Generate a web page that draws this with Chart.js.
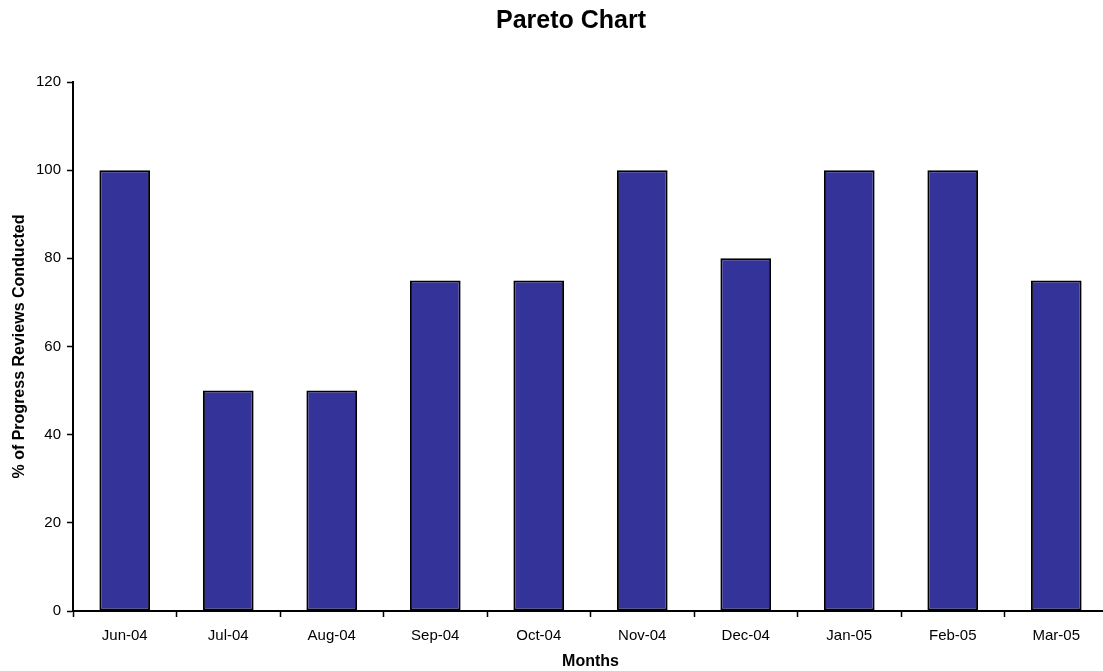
<!DOCTYPE html>
<html>
<head>
<meta charset="utf-8">
<script src="https://cdn.jsdelivr.net/npm/chart.js@4.4.1/dist/chart.umd.min.js"></script>
<style>
  html, body { margin: 0; padding: 0; background: #fff; overflow: hidden; }
  /* canvas is a few px wider than the window: the original's x axis runs past the right edge */
  #paretoChart { display: block; }
</style>
</head>
<body>
<canvas id="paretoChart" width="1108" height="671"></canvas>
<script>
const chartTitle = 'Pareto Chart';
const months = ['Jun-04', 'Jul-04', 'Aug-04', 'Sep-04', 'Oct-04', 'Nov-04', 'Dec-04', 'Jan-05', 'Feb-05', 'Mar-05'];
const reviewPercent = [100, 50, 50, 75, 75, 100, 80, 100, 100, 75];
const yTicks = [0, 20, 40, 60, 80, 100, 120];

const fontFamily = '"Liberation Sans", Arial, sans-serif';

// title sits a bit right of the canvas centre in the original, so draw it by hand
const titlePlugin = {
  id: 'offsetTitle',
  afterDraw(chart) {
    const c = chart.ctx;
    c.save();
    c.font = 'bold 25px ' + fontFamily;
    c.fillStyle = '#000';
    c.textAlign = 'center';
    c.textBaseline = 'middle';
    c.fillText(chartTitle, 571, 21);
    c.restore();
  }
};

const ctx = document.getElementById('paretoChart').getContext('2d');
new Chart(ctx, {
  type: 'bar',
  data: {
    labels: months,
    datasets: [
      {
        label: '% of Progress Reviews Conducted',
        data: reviewPercent,
        backgroundColor: '#333399',
        borderColor: '#000000',
        borderWidth: 2,
        borderSkipped: false,
        barPercentage: 0.49,
        categoryPercentage: 1.0
      }
    ]
  },
  plugins: [titlePlugin],
  options: {
    responsive: false,
    animation: false,
    layout: {
      padding: { left: 0, right: 0, top: 82, bottom: 0 }
    },
    scales: {
      x: {
        afterFit: function(scale) { scale.height = 60; },
        grid: {
          display: true,
          drawOnChartArea: false,
          drawTicks: true,
          tickLength: 6,
          tickWidth: 1.5,
          tickColor: '#000',
          offset: true
        },
        border: { display: true, color: '#000', width: 2 },
        ticks: {
          color: '#000',
          padding: 10,
          maxRotation: 0,
          font: { family: fontFamily, size: 15 }
        },
        title: {
          display: true,
          text: 'Months',
          color: '#000',
          padding: { top: 0, bottom: 0 },
          font: { family: fontFamily, size: 16, weight: 'bold' }
        }
      },
      y: {
        min: 0,
        max: 120,
        afterFit: function(scale) { scale.width = 73; },
        afterBuildTicks: function(scale) {
          scale.ticks = yTicks.map(v => ({ value: v }));
        },
        grid: {
          display: true,
          drawOnChartArea: false,
          drawTicks: true,
          tickLength: 6,
          tickWidth: 1.5,
          tickColor: '#000'
        },
        border: { display: true, color: '#000', width: 2 },
        ticks: {
          color: '#000',
          padding: 6,
          font: { family: fontFamily, size: 15 }
        },
        title: {
          display: true,
          text: '% of Progress Reviews Conducted',
          color: '#000',
          padding: { top: 10, bottom: 0 },
          font: { family: fontFamily, size: 16, weight: 'bold' }
        }
      }
    },
    plugins: {
      legend: { display: false },
      tooltip: { enabled: false },
      title: { display: false }
    }
  }
});
</script>
</body>
</html>
